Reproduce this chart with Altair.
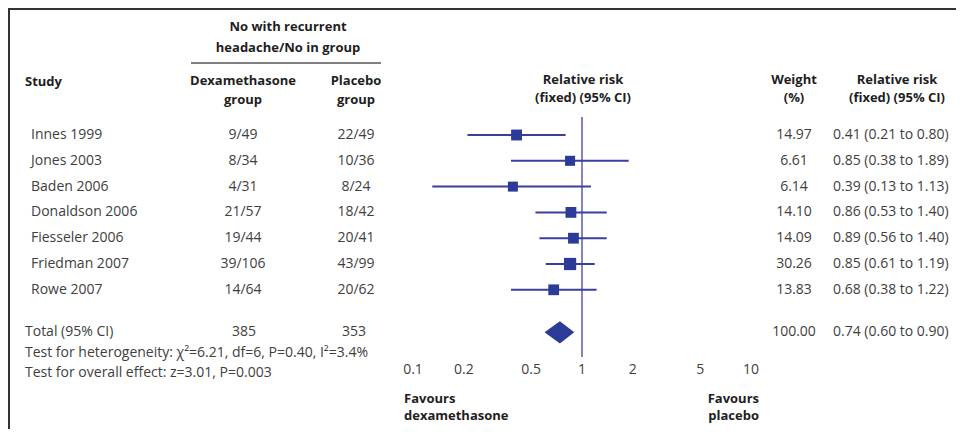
import altair as alt
import pandas as pd

# ---- data ----
studies = ["Innes 1999", "Jones 2003", "Baden 2006", "Donaldson 2006",
           "Fiesseler 2006", "Friedman 2007", "Rowe 2007"]
dexa = ["9/49", "8/34", "4/31", "21/57", "19/44", "39/106", "14/64"]
placebo = ["22/49", "10/36", "8/24", "18/42", "20/41", "43/99", "20/62"]
rr = [0.41, 0.85, 0.39, 0.86, 0.89, 0.85, 0.68]
lo = [0.21, 0.38, 0.13, 0.53, 0.56, 0.61, 0.38]
hi = [0.80, 1.89, 1.13, 1.40, 1.40, 1.19, 1.22]
weight = [14.97, 6.61, 6.14, 14.10, 14.09, 30.26, 13.83]

total_dexa = "385"
total_placebo = "353"
total_rr, total_lo, total_hi, total_weight = 0.74, 0.60, 0.90, 100.00

tick_values = [0.1, 0.2, 0.5, 1, 2, 5, 10]
tick_labels = ["0.1", "0.2", "0.5", "1", "2", "5", "10"]

heterogeneity = "Test for heterogeneity: \u03c7\u00b2=6.21, df=6, P=0.40, I\u00b2=3.4%"
overall = "Test for overall effect: z=3.01, P=0.003"

TOTAL_ROW = 7.65

df = pd.DataFrame({
    "study": studies, "dexa": dexa, "placebo": placebo,
    "rr": rr, "lo": lo, "hi": hi, "weight": weight,
    "row": list(range(len(studies))),
})
df["wtxt"] = [f"{w:.2f}" for w in weight]
df["rrtxt"] = [f"{a:.2f} ({b:.2f} to {c:.2f})" for a, b, c in zip(rr, lo, hi)]

tot = pd.DataFrame({
    "label": ["Total (95% CI)"], "dexa": [total_dexa], "placebo": [total_placebo],
    "wtxt": [f"{total_weight:.2f}"],
    "rrtxt": [f"{total_rr:.2f} ({total_lo:.2f} to {total_hi:.2f})"],
    "row": [TOTAL_ROW],
})

half = 0.43
diamond = pd.DataFrame({
    "x": [total_lo, total_rr, total_hi],
    "y": [TOTAL_ROW, TOTAL_ROW - half, TOTAL_ROW],
    "y2": [TOTAL_ROW, TOTAL_ROW + half, TOTAL_ROW],
})

ticks = pd.DataFrame({"v": tick_values, "lab": tick_labels})

W, H = 948, 421
FONT = "Open Sans"
BODY = "#404040"
HEAD = "#1e1e1e"
BLUE = "#2d3b98"
BODY_SIZE = 14
HEAD_SIZE = 13

xs = alt.Scale(type="log", domain=[0.1, 10], range=[405, 743])
ys = alt.Scale(domain=[0, 10], range=[127, 385])

base = alt.Chart(df)


def label(text, x, y, align="left", bold=False):
    return alt.Chart(pd.DataFrame({"t": [text]})).mark_text(
        align=align, baseline="middle", font=FONT,
        fontSize=HEAD_SIZE if bold else BODY_SIZE,
        fontWeight="bold" if bold else "normal",
        color=HEAD if bold else BODY,
    ).encode(x=alt.value(x), y=alt.value(y), text="t:N")


# frame (top and left edges)
frame_top = alt.Chart(pd.DataFrame({"a": [0]})).mark_rule(color="#333", strokeWidth=2).encode(
    x=alt.value(0), x2=alt.value(W), y=alt.value(1))
frame_left = alt.Chart(pd.DataFrame({"a": [0]})).mark_rule(color="#333", strokeWidth=2).encode(
    x=alt.value(1), y=alt.value(0), y2=alt.value(H))
underline = alt.Chart(pd.DataFrame({"a": [0]})).mark_rule(color="#555", strokeWidth=1.5).encode(
    x=alt.value(183), x2=alt.value(373), y=alt.value(55))

# null line at 1
null_line = alt.Chart(pd.DataFrame({"v": [1]})).mark_rule(color="#5a5ca8", strokeWidth=1.5).encode(
    x=alt.X("v:Q", scale=xs, axis=None), y=alt.value(109), y2=alt.value(349))

ci = base.mark_rule(color="#3a3f9e", strokeWidth=2).encode(
    x=alt.X("lo:Q", scale=xs, axis=None), x2="hi:Q",
    y=alt.Y("row:Q", scale=ys, axis=None))

squares = base.mark_square(color=BLUE, opacity=1).encode(
    x=alt.X("rr:Q", scale=xs, axis=None),
    y=alt.Y("row:Q", scale=ys, axis=None),
    size=alt.Size("weight:Q", scale=alt.Scale(domain=[6, 30.3], range=[100, 150]), legend=None))

dia = alt.Chart(diamond).mark_area(color=BLUE, orient="vertical").encode(
    x=alt.X("x:Q", scale=xs, axis=None),
    y=alt.Y("y:Q", scale=ys, axis=None), y2="y2:Q")

tick_text = alt.Chart(ticks).mark_text(font=FONT, fontSize=BODY_SIZE, color=BODY, baseline="middle").encode(
    x=alt.X("v:Q", scale=xs, axis=None), y=alt.value(362), text="lab:N")


def col(data, field, x, align):
    return alt.Chart(data).mark_text(
        font=FONT, fontSize=BODY_SIZE, color=BODY, align=align, baseline="middle").encode(
        x=alt.value(x), y=alt.Y("row:Q", scale=ys, axis=None), text=f"{field}:N")


cols = [
    col(df, "study", 23, "left"),
    col(df, "dexa", 235, "center"),
    col(df, "placebo", 348, "center"),
    col(df, "wtxt", 786, "center"),
    col(df, "rrtxt", 825, "left"),
    col(tot, "label", 17, "left"),
    col(tot, "dexa", 236, "center"),
    col(tot, "placebo", 346, "center"),
    col(tot, "wtxt", 786, "center"),
    col(tot, "rrtxt", 825, "left"),
]

headers = [
    label("No with recurrent", 280, 19, "center", True),
    label("headache/No in group", 280, 40, "center", True),
    label("Study", 17, 74, "left", True),
    label("Dexamethasone", 235, 73, "center", True),
    label("group", 235, 92, "center", True),
    label("Placebo", 348, 73, "center", True),
    label("group", 348, 92, "center", True),
    label("Relative risk", 575, 72, "center", True),
    label("(fixed) (95% CI)", 575, 90, "center", True),
    label("Weight", 786, 72, "center", True),
    label("(%)", 786, 90, "center", True),
    label("Relative risk", 889, 72, "center", True),
    label("(fixed) (95% CI)", 889, 90, "center", True),
    label(heterogeneity, 17, 345, "left"),
    label(overall, 17, 365, "left"),
    label("Favours", 396, 391, "left", True),
    label("dexamethasone", 396, 408, "left", True),
    label("Favours", 751, 391, "right", True),
    label("placebo", 751, 408, "right", True),
]

chart = alt.layer(
    frame_top, frame_left, underline, null_line, ci, squares, dia, tick_text,
    *cols, *headers,
).properties(
    width=W, height=H, autosize=alt.AutoSizeParams(type="none"), padding=0,
).configure_view(stroke="transparent").resolve_scale(x="shared", y="shared")

chart.save("out.html", embed_options={"renderer": "svg", "actions": False})
